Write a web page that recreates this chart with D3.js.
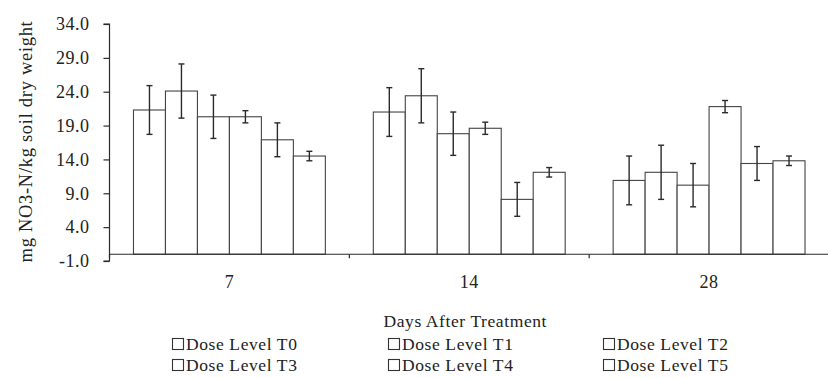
<!DOCTYPE html>
<html>
<head>
<meta charset="utf-8">
<script src="https://cdn.jsdelivr.net/npm/d3@7"></script>
<style>
  html, body { margin: 0; padding: 0; background: #ffffff; }
  svg { display: block; }
  text { font-family: "Liberation Serif", "Times New Roman", serif; fill: #222; }
</style>
</head>
<body>
<svg id="chart" width="828" height="378"></svg>
<script>
const days = ["7", "14", "28"];
const seriesNames = ["Dose Level T0", "Dose Level T1", "Dose Level T2", "Dose Level T3", "Dose Level T4", "Dose Level T5"];
const T0 = [21.3, 21.0, 10.9];
const T1 = [24.1, 23.4, 12.1];
const T2 = [20.3, 17.8, 10.2];
const T3 = [20.3, 18.6, 21.8];
const T4 = [16.9, 8.1, 13.4];
const T5 = [14.5, 12.1, 13.8];
const errors = [3.6, 4.0, 3.2, 0.9, 2.5, 0.7];
const yTicks = [-1, 4, 9, 14, 19, 24, 29, 34];
const xTitle = "Days After Treatment";
const yTitle = "mg NO3-N/kg soil dry weight";

const seriesValues = [T0, T1, T2, T3, T4, T5];

const svg = d3.select("#chart");
const W = 828, H = 378;
const plot = { left: 109.5, right: 829, top: 24, bottom: 261 };

const y = d3.scaleLinear().domain([-1, 34]).range([plot.bottom, plot.top]);
const x0 = d3.scaleBand().domain(days).range([plot.left, plot.right]).paddingInner(0).paddingOuter(0);
const x1 = d3.scaleBand().domain(seriesNames).range([0, x0.bandwidth()]).paddingInner(0).paddingOuter(0.75);

const ink = "#2a2a2a";

// Bars
const data = [];
days.forEach((d, di) => {
  seriesNames.forEach((s, si) => {
    data.push({ day: d, series: s, value: seriesValues[si][di], err: errors[si] });
  });
});

const g = svg.append("g");
g.selectAll("rect.bar").data(data).enter().append("rect")
  .attr("class", "bar")
  .attr("x", d => x0(d.day) + x1(d.series))
  .attr("y", d => y(d.value))
  .attr("width", x1.bandwidth())
  .attr("height", d => y(0) - y(d.value))
  .attr("fill", "#ffffff")
  .attr("stroke", "#444")
  .attr("stroke-width", 1.1);

// Error bars
const eb = g.selectAll("g.err").data(data).enter().append("g").attr("class", "err")
  .attr("stroke", ink).attr("stroke-width", 1.4);
const cx = d => x0(d.day) + x1(d.series) + x1.bandwidth() / 2;
eb.append("line")
  .attr("x1", cx).attr("x2", cx)
  .attr("y1", d => y(d.value + d.err)).attr("y2", d => y(d.value - d.err));
eb.append("line")
  .attr("x1", d => cx(d) - 3).attr("x2", d => cx(d) + 3)
  .attr("y1", d => y(d.value + d.err)).attr("y2", d => y(d.value + d.err));
eb.append("line")
  .attr("x1", d => cx(d) - 3).attr("x2", d => cx(d) + 3)
  .attr("y1", d => y(d.value - d.err)).attr("y2", d => y(d.value - d.err));

// Y axis
const fmt = v => v.toFixed(1);
const yAxis = d3.axisLeft(y).tickValues(yTicks).tickSize(6).tickPadding(14).tickFormat(fmt);
const ya = svg.append("g").attr("transform", `translate(${plot.left},0)`).call(yAxis);
ya.select(".domain").attr("stroke", ink).attr("stroke-width", 1.2).attr("d", `M-6,${y(34)}H0V${y(-1)}H-6`);
ya.selectAll(".tick line").attr("stroke", ink).attr("stroke-width", 1.2);
ya.selectAll(".tick text").style("font-size", "18px").style("letter-spacing", "0.5px")
  .attr("fill", "#222").style("font-family", '"Liberation Serif", serif');

// X axis at value 0
const xAxis = d3.axisBottom(x0).tickSize(0).tickPadding(21);
const xa = svg.append("g").attr("transform", `translate(0,${y(0)})`).call(xAxis);
xa.select(".domain").attr("stroke", ink).attr("stroke-width", 1.2)
  .attr("d", `M${plot.left},0H${W}`);
xa.selectAll(".tick text").style("font-size", "18px").style("letter-spacing", "0.5px")
  .attr("fill", "#222").style("font-family", '"Liberation Serif", serif');
// category boundary ticks
const bounds = days.map(d => x0(d)).concat([x0(days[days.length - 1]) + x0.bandwidth()]);
xa.selectAll("line.bnd").data(bounds).enter().append("line")
  .attr("class", "bnd")
  .attr("x1", d => d).attr("x2", d => d).attr("y1", 0).attr("y2", 4)
  .attr("stroke", ink).attr("stroke-width", 1.2);

// Axis titles
svg.append("text")
  .attr("x", (plot.left + plot.right) / 2 - 4)
  .attr("y", 327)
  .attr("text-anchor", "middle")
  .style("font-size", "17.5px").style("letter-spacing", "0.6px")
  .text(xTitle);

svg.append("text")
  .attr("transform", `translate(32,${(plot.top + plot.bottom) / 2 - 1}) rotate(-90)`)
  .attr("text-anchor", "middle")
  .style("font-size", "18.5px").style("letter-spacing", "0.7px")
  .text(yTitle);

// Legend
const legCols = [172, 388, 603];
const legRows = [350, 371];
const leg = svg.append("g");
seriesNames.forEach((s, i) => {
  const cxp = legCols[i % 3];
  const by = legRows[Math.floor(i / 3)];
  leg.append("rect")
    .attr("x", cxp + 0.5).attr("y", by - 11.5)
    .attr("width", 11).attr("height", 11)
    .attr("fill", "#fff").attr("stroke", "#333").attr("stroke-width", 1.1);
  leg.append("text")
    .attr("x", cxp + 14).attr("y", by)
    .style("font-size", "17.5px").style("letter-spacing", "0.6px")
    .text(s);
});
</script>
</body>
</html>
